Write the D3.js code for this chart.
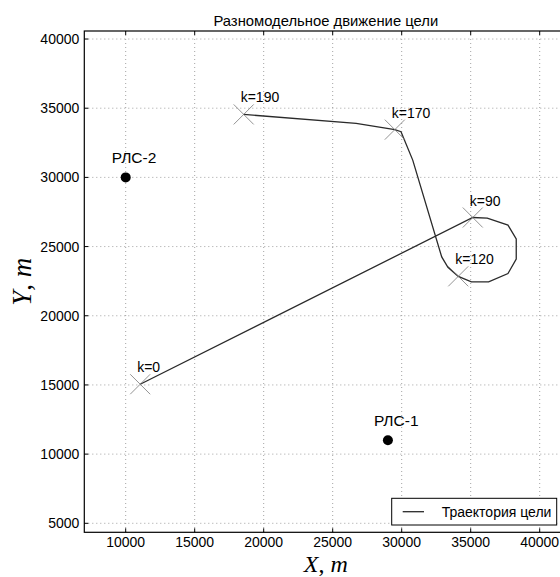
<!DOCTYPE html>
<html lang="ru">
<head>
<meta charset="UTF-8">
<title>Разномодельное движение цели</title>
<style>
  body { margin: 0; background: #fff; }
  svg { display: block; font-family: "Liberation Sans", Arial, sans-serif; }
  .grid line { stroke: #8a8a8a; stroke-width: 0.8; stroke-dasharray: 1,3; }
  .math { font-family: "Liberation Serif", "DejaVu Serif", serif; }
</style>
</head>
<body>
<div id="chart"></div>
<script src="https://d3js.org/d3.v7.min.js"></script>
<script>
// trajectory vertices
var trajX = [11050, 35150, 36200, 37700, 38300, 38300, 37700, 36300, 35050, 34100, 33350, 32900, 30800, 29950, 29500, 26700, 18550];
var trajY = [15050, 27100, 27050, 26550, 25550, 24100, 23050, 22450, 22450, 22850, 23500, 24250, 31250, 33300, 33450, 33900, 34550];

// marked time steps
var markK = [0, 90, 120, 170, 190];
var markX = [11050, 35150, 34100, 29500, 18550];
var markY = [15050, 27100, 22850, 33450, 34550];

// radar stations
var radarNames = ["РЛС-1", "РЛС-2"];
var radarX = [29000, 10000];
var radarY = [11000, 30000];

var xTicks = [10000, 15000, 20000, 25000, 30000, 35000, 40000];
var yTicks = [5000, 10000, 15000, 20000, 25000, 30000, 35000, 40000];

var W = 560, H = 577;
// plot box (pixels)
var pL = 84.3, pR = 567.3, pT = 31, pB = 532.3;

var x = d3.scaleLinear().domain([7000, 42000]).range([pL, pR]);
var y = d3.scaleLinear().domain([4350, 40580]).range([pB, pT]);

var svg = d3.select("#chart").append("svg")
    .attr("width", W).attr("height", H);

// grid
var grid = svg.append("g").attr("class", "grid");
grid.selectAll(".gx").data(xTicks).enter().append("line")
    .attr("x1", d => x(d)).attr("x2", d => x(d))
    .attr("y1", pT).attr("y2", pB);
grid.selectAll(".gy").data(yTicks).enter().append("line")
    .attr("y1", d => y(d)).attr("y2", d => y(d))
    .attr("x1", pL).attr("x2", pR);

// trajectory
var pts = trajX.map(function(d, i) { return [d, trajY[i]]; });
svg.append("path")
    .datum(pts)
    .attr("fill", "none")
    .attr("stroke", "#2a2a2a")
    .attr("stroke-width", 1.3)
    .attr("d", d3.line().x(d => x(d[0])).y(d => y(d[1])));

// markers (x) and labels
var marks = markK.map(function(k, i) { return { k: k, x: markX[i], y: markY[i] }; });
var s = 10;
var mg = svg.append("g");
mg.selectAll(".m1").data(marks).enter().append("line")
    .attr("x1", d => x(d.x) - s).attr("y1", d => y(d.y) - s)
    .attr("x2", d => x(d.x) + s).attr("y2", d => y(d.y) + s)
    .attr("stroke", "#777").attr("stroke-width", 0.8);
mg.selectAll(".m2").data(marks).enter().append("line")
    .attr("x1", d => x(d.x) - s).attr("y1", d => y(d.y) + s)
    .attr("x2", d => x(d.x) + s).attr("y2", d => y(d.y) - s)
    .attr("stroke", "#777").attr("stroke-width", 0.8);
mg.selectAll("text").data(marks).enter().append("text")
    .attr("x", d => x(d.x) - 3)
    .attr("y", d => y(d.y) - 12)
    .attr("font-size", 14)
    .attr("fill", "#000")
    .text(d => "k=" + d.k);

// radars
var radars = radarNames.map(function(n, i) { return { name: n, x: radarX[i], y: radarY[i] }; });
svg.selectAll(".radar").data(radars).enter().append("circle")
    .attr("cx", d => x(d.x)).attr("cy", d => y(d.y))
    .attr("r", 5).attr("fill", "#000");
svg.selectAll(".rlabel").data(radars).enter().append("text")
    .attr("x", d => x(d.x) - 14)
    .attr("y", d => y(d.y) - 14)
    .attr("font-size", 15.5)
    .text(d => d.name);

// frame
svg.append("rect")
    .attr("x", pL).attr("y", pT)
    .attr("width", pR - pL).attr("height", pB - pT)
    .attr("fill", "none").attr("stroke", "#000").attr("stroke-width", 1.2);

// ticks (inward, on all four sides)
var tk = svg.append("g").attr("stroke", "#000").attr("stroke-width", 1);
xTicks.forEach(function(t) {
  tk.append("line").attr("x1", x(t)).attr("x2", x(t)).attr("y1", pB).attr("y2", pB - 4);
  tk.append("line").attr("x1", x(t)).attr("x2", x(t)).attr("y1", pT).attr("y2", pT + 4);
});
yTicks.forEach(function(t) {
  tk.append("line").attr("y1", y(t)).attr("y2", y(t)).attr("x1", pL).attr("x2", pL + 4);
  tk.append("line").attr("y1", y(t)).attr("y2", y(t)).attr("x1", pR).attr("x2", pR - 4);
});

// tick labels
svg.selectAll(".xl").data(xTicks).enter().append("text")
    .attr("x", d => x(d)).attr("y", pB + 15)
    .attr("text-anchor", "middle").attr("font-size", 14)
    .text(d => d);
svg.selectAll(".yl").data(yTicks).enter().append("text")
    .attr("x", pL - 5).attr("y", d => y(d) + 5)
    .attr("text-anchor", "end").attr("font-size", 14)
    .text(d => d);

// title
svg.append("text")
    .attr("x", (pL + pR) / 2).attr("y", 26)
    .attr("text-anchor", "middle").attr("font-size", 14.8)
    .text("Разномодельное движение цели");

// axis labels
var xl = svg.append("text").attr("class", "math")
    .attr("x", (pL + pR) / 2).attr("y", 571.5)
    .attr("text-anchor", "middle").attr("font-size", 24);
xl.append("tspan").attr("font-style", "italic").text("X");
xl.append("tspan").text(", ");
xl.append("tspan").attr("font-style", "italic").text("m");

var yl = svg.append("text").attr("class", "math")
    .attr("transform", "translate(31," + ((pT + pB) / 2) + ") rotate(-90)")
    .attr("text-anchor", "middle").attr("font-size", 27);
yl.append("tspan").attr("font-style", "italic").text("Y");
yl.append("tspan").text(", ");
yl.append("tspan").attr("font-style", "italic").text("m");

// legend
var lg = svg.append("g");
lg.append("rect")
    .attr("x", 391.7).attr("y", 498.3)
    .attr("width", 165).attr("height", 26.7)
    .attr("fill", "#fff").attr("stroke", "#000").attr("stroke-width", 1);
lg.append("line")
    .attr("x1", 402.7).attr("x2", 424).attr("y1", 511.7).attr("y2", 511.7)
    .attr("stroke", "#2a2a2a").attr("stroke-width", 1.3);
lg.append("text")
    .attr("x", 441.7).attr("y", 516.7).attr("font-size", 14)
    .text("Траектория цели");
</script>
</body>
</html>
